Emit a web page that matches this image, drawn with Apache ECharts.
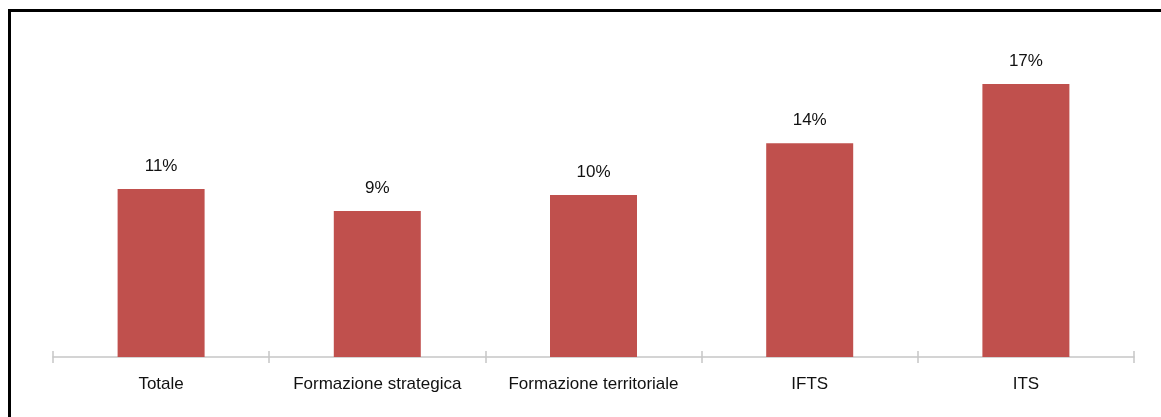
<!DOCTYPE html>
<html>
<head>
<meta charset="utf-8">
<script src="https://cdn.jsdelivr.net/npm/echarts@6/dist/echarts.min.js"></script>
<style>
html,body{margin:0;padding:0;background:#fff;}
#c{width:1161px;height:417px;}
</style>
</head>
<body>
<div id="c"></div>
<script>
const categories = ['Totale', 'Formazione strategica', 'Formazione territoriale', 'IFTS', 'ITS'];
const values = [10.65, 9.25, 10.27, 13.55, 17.3];
const valueLabels = ['11%', '9%', '10%', '14%', '17%'];

const FONT = '"Liberation Sans", Arial, sans-serif';
const chart = echarts.init(document.getElementById('c'), null, {renderer: 'canvas'});
chart.setOption({
  animation: false,
  backgroundColor: '#ffffff',
  graphic: [{
    type: 'rect', z: 100,
    shape: {x: 9.5, y: 10.5, width: 1300, height: 600},
    style: {fill: 'none', stroke: '#000', lineWidth: 3}
  }],
  grid: {left: 53, right: 27, top: 41.4, bottom: 60, containLabel: false},
  xAxis: [{
    type: 'category', data: categories, position: 'bottom',
    axisLine: {lineStyle: {color: '#c6c6c6', width: 1.5}},
    axisTick: {show: true, inside: false, length: 6, lineStyle: {color: '#c6c6c6', width: 1.5}},
    axisLabel: {color: '#111111', fontSize: 17, fontFamily: FONT, margin: 19, interval: 0}
  }, {
    type: 'category', data: categories, position: 'bottom', offset: 0,
    axisLine: {show: false},
    axisTick: {show: true, inside: true, length: 6, lineStyle: {color: '#c6c6c6', width: 1.5}},
    axisLabel: {show: false}
  }],
  yAxis: {type: 'value', min: 0, max: 20, show: false, splitLine: {show: false}},
  series: [{
    type: 'bar', data: values, xAxisIndex: 0, barWidth: 87,
    itemStyle: {color: '#C0504D'},
    label: {
      show: true, position: 'top', distance: 14,
      color: '#111111', fontSize: 17, fontFamily: FONT,
      formatter: p => valueLabels[p.dataIndex]
    }
  }]
});
</script>
</body>
</html>
